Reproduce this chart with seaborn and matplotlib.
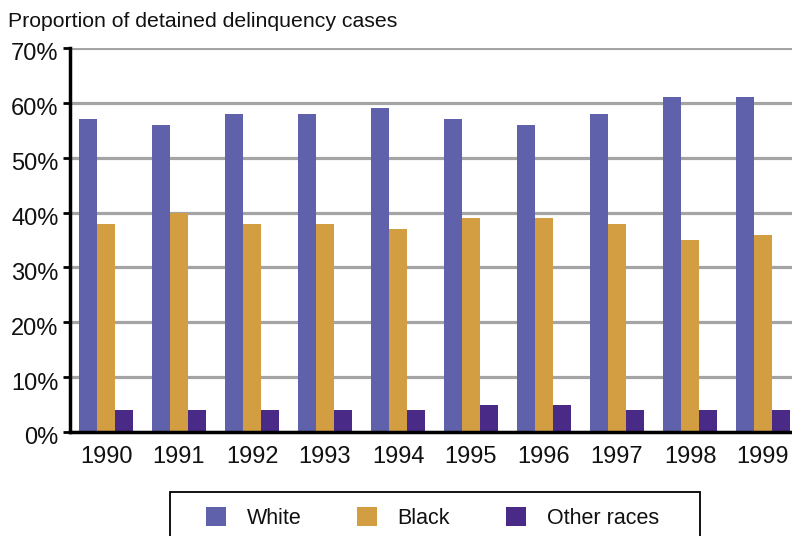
import matplotlib
matplotlib.use("Agg")
import matplotlib.pyplot as plt
import matplotlib.transforms as mtransforms
from matplotlib.patches import Rectangle
import seaborn as sns
import pandas as pd

years = ["1990", "1991", "1992", "1993", "1994", "1995", "1996", "1997", "1998", "1999"]
white = [57, 56, 58, 58, 59, 57, 56, 58, 61, 61]
black = [38, 40, 38, 38, 37, 39, 39, 38, 35, 36]
other = [4, 4, 4, 4, 4, 5, 5, 4, 4, 4]
groups = ["White", "Black", "Other races"]
colors = ["#5f62aa", "#d39d41", "#4a2a87"]
yticks = [0, 10, 20, 30, 40, 50, 60, 70]

rows = []
for name, vals in zip(groups, [white, black, other]):
    for y, v in zip(years, vals):
        rows.append({"year": y, "group": name, "pct": v})
df = pd.DataFrame(rows)

sns.set_theme(style="white")
plt.rcParams["font.family"] = ["Liberation Sans", "DejaVu Sans"]

W, H = 792, 536
fig = plt.figure(figsize=(W / 100, H / 100), dpi=100)
ax = fig.add_axes([69.5 / W, 1 - 432 / H, 730 / W, 384 / H])

sns.barplot(data=df, x="year", y="pct", hue="group", hue_order=groups,
            palette=colors, width=0.75, saturation=1, ax=ax, legend=True,
            linewidth=0, zorder=3)

ax.set_xlim(-0.5, 9.5)
ax.set_ylim(0, 70)
ax.set_yticks(yticks)
ax.set_yticklabels([f"{t}%" for t in yticks], fontsize=17, color="#111111")
ax.tick_params(axis="x", labelsize=17, colors="#111111", length=0, pad=10)
ax.tick_params(axis="y", length=5, width=2, color="black", direction="out",
               left=True, pad=3)
# tick labels sit slightly below their gridlines
shift = mtransforms.ScaledTranslation(0, -4 / 100, fig.dpi_scale_trans)
for lab in ax.get_yticklabels():
    lab.set_transform(lab.get_transform() + shift)
ax.set_xlabel("")
ax.set_ylabel("")

ax.yaxis.grid(True, color="#a4a4a4", linewidth=2.3, zorder=0)
ax.set_axisbelow(True)
for side in ["top", "right"]:
    ax.spines[side].set_visible(False)
for side in ["left", "bottom"]:
    ax.spines[side].set_color("black")
    ax.spines[side].set_linewidth(2.5)
    ax.spines[side].set_zorder(5)

fig.text(8 / W, 1 - 27 / H, "Proportion of detained delinquency cases",
         fontsize=15.3, color="#111111", va="baseline", ha="left")

handles, labels = ax.get_legend_handles_labels()
ax.get_legend().remove()
leg = fig.legend(handles, labels, ncol=3, loc="center left",
                 bbox_to_anchor=(206 / W, 1 - 518 / H),
                 fontsize=15.5, frameon=False,
                 handlelength=0.93, handleheight=0.93,
                 handletextpad=0.95, columnspacing=2.6, borderpad=0,
                 borderaxespad=0)
for t in leg.get_texts():
    t.set_color("#111111")

# legend box, open at the bottom edge of the figure
fig.patches.append(Rectangle((170 / W, -0.05), 530 / W, 0.05 + 1 - 492 / H,
                             transform=fig.transFigure, fill=False,
                             edgecolor="black", linewidth=1.3))

fig.savefig("out.png", dpi=100)
